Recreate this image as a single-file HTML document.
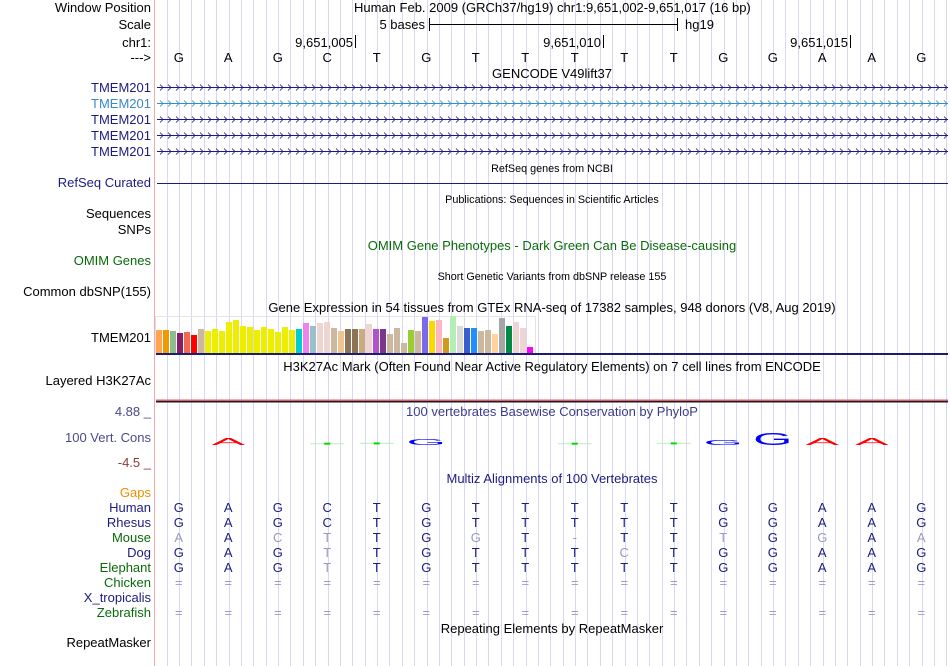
<!DOCTYPE html>
<html><head><meta charset="utf-8">
<style>
html,body{margin:0;padding:0;background:#fff;}
svg{display:block;font-family:"Liberation Sans",sans-serif;}
</style></head>
<body>
<svg id="chart" width="950" height="666" viewBox="0 0 950 666" xmlns="http://www.w3.org/2000/svg">
<rect width="950" height="666" fill="#fff"/>
<g id="grid"></g>
<line x1="154.5" y1="0" x2="154.5" y2="666" stroke="#f4a8a8" stroke-width="1"/>

<g font-size="13" text-anchor="end">
<text x="151" y="12" fill="#000">Window Position</text>
<text x="151" y="29" fill="#000">Scale</text>
<text x="151" y="47" fill="#000">chr1:</text>
<text x="151" y="62" fill="#000">---&gt;</text>
<text x="151" y="92" fill="#1c1c80">TMEM201</text>
<text x="151" y="108" fill="#3a8ac4">TMEM201</text>
<text x="151" y="124" fill="#1c1c80">TMEM201</text>
<text x="151" y="140" fill="#1c1c80">TMEM201</text>
<text x="151" y="156" fill="#1c1c80">TMEM201</text>
<text x="151" y="187" fill="#1c1c80">RefSeq Curated</text>
<text x="151" y="218" fill="#000">Sequences</text>
<text x="151" y="234" fill="#000">SNPs</text>
<text x="151" y="265" fill="#0a6a0a">OMIM Genes</text>
<text x="151" y="296" fill="#000">Common dbSNP(155)</text>
<text x="151" y="342" fill="#000">TMEM201</text>
<text x="151" y="385" fill="#000">Layered H3K27Ac</text>
<text x="151" y="416" fill="#4a4a8c">4.88 _</text>
<text x="151" y="442" fill="#4a4a8c">100 Vert. Cons</text>
<text x="151" y="467" fill="#8b3a3a">-4.5 _</text>
<text x="151" y="497" fill="#f08c00">Gaps</text>
<text x="151" y="512" fill="#1c1c80">Human</text>
<text x="151" y="527" fill="#1c1c80">Rhesus</text>
<text x="151" y="542" fill="#0a6a0a">Mouse</text>
<text x="151" y="557" fill="#1c1c80">Dog</text>
<text x="151" y="572" fill="#0a6a0a">Elephant</text>
<text x="151" y="587" fill="#0a6a0a">Chicken</text>
<text x="151" y="602" fill="#1c1c80">X_tropicalis</text>
<text x="151" y="617" fill="#0a6a0a">Zebrafish</text>
<text x="151" y="647" fill="#000">RepeatMasker</text>
</g>

<g font-size="13" fill="#000">
<text x="354" y="12">Human Feb. 2009 (GRCh37/hg19)   chr1:9,651,002-9,651,017 (16 bp)</text>
<text x="425" y="29" text-anchor="end">5 bases</text>
<line x1="429" y1="24.5" x2="677" y2="24.5" stroke="#000"/>
<line x1="429.5" y1="18" x2="429.5" y2="31" stroke="#000"/>
<line x1="677.5" y1="18" x2="677.5" y2="31" stroke="#000"/>
<text x="685" y="29">hg19</text>
<text x="353" y="47" text-anchor="end">9,651,005</text>
<line x1="355.5" y1="35" x2="355.5" y2="48" stroke="#000"/>
<text x="601" y="47" text-anchor="end">9,651,010</text>
<line x1="603.5" y1="35" x2="603.5" y2="48" stroke="#000"/>
<text x="848" y="47" text-anchor="end">9,651,015</text>
<line x1="850.5" y1="35" x2="850.5" y2="48" stroke="#000"/>
<g id="bases"></g>
</g>

<g text-anchor="middle">
<text x="552" y="78" font-size="13">GENCODE V49lift37</text>
<text x="552" y="172" font-size="10.8">RefSeq genes from NCBI</text>
<text x="552" y="203" font-size="10.8">Publications: Sequences in Scientific Articles</text>
<text x="552" y="250" font-size="13" fill="#0a6a0a">OMIM Gene Phenotypes - Dark Green Can Be Disease-causing</text>
<text x="552" y="280" font-size="10.8">Short Genetic Variants from dbSNP release 155</text>
<text x="552" y="312" font-size="13">Gene Expression in 54 tissues from GTEx RNA-seq of 17382 samples, 948 donors (V8, Aug 2019)</text>
<text x="552" y="371" font-size="13">H3K27Ac Mark (Often Found Near Active Regulatory Elements) on 7 cell lines from ENCODE</text>
<text x="552" y="416" font-size="13" fill="#3c3c8c">100 vertebrates Basewise Conservation by PhyloP</text>
<text x="552" y="483" font-size="13" fill="#1c1c80">Multiz Alignments of 100 Vertebrates</text>
<text x="552" y="633" font-size="13">Repeating Elements by RepeatMasker</text>
</g>

<g id="genes"></g>
<line x1="157" y1="183.5" x2="948" y2="183.5" stroke="#1c1c80"/>

<rect x="155.5" y="316.5" width="380" height="37" fill="none" stroke="#e4e4e4"/>
<g id="gtex"></g>
<rect x="156" y="353" width="792" height="2" fill="#1c1c70"/>

<rect x="156" y="399.5" width="792" height="1.5" fill="#e06060"/>
<rect x="156" y="401" width="792" height="1.5" fill="#1a1a30"/>

<g id="logo"></g>
<g id="align" font-size="13" text-anchor="middle"></g>
</svg>
<script>
// ---- data ----
const refBases = ["G","A","G","C","T","G","T","T","T","T","T","G","G","A","A","G"];
const rhesusBases = ["G","A","G","C","T","G","T","T","T","T","T","G","G","A","A","G"];
const mouseBases = ["A","A","C","T","T","G","G","T","-","T","T","T","G","G","A","A"];
const dogBases = ["G","A","G","T","T","G","T","T","T","C","T","G","G","A","A","G"];
const elephantBases = ["G","A","G","T","T","G","T","T","T","T","T","G","G","A","A","G"];
const gtexValues = [23,23,22,20,21,18,24,22,24,22,31,33,27,26,23,26,24,21,26,23,24,30,27,30,31,25,22,24,24,24,29,24,24,19,25,10,23,22,36,32,33,15,37,27,25,25,22,23,19,35,27,31,25,6];
const gtexColors = ["#FFA54F","#EE9A00","#8FBC8F","#8B1C62","#EE6A50","#FF0000","#CDB79E","#EEEE00","#EEEE00","#EEEE00","#EEEE00","#EEEE00","#EEEE00","#EEEE00","#EEEE00","#EEEE00","#EEEE00","#EEEE00","#EEEE00","#EEEE00","#00CDCD","#EE82EE","#9AC0CD","#EED5D2","#EED5D2","#CDB79E","#EEC591","#8B7355","#8B7355","#CDAA7D","#EED5D2","#B452CD","#7A378B","#CDB79E","#CDB79E","#CDB79E","#9ACD32","#CDB79E","#7B68EE","#FFD700","#FFB6C1","#CD9B1D","#B4EEB4","#D9D9D9","#3A5FCD","#1E90FF","#CDB79E","#CDB79E","#FFD39B","#A6A6A6","#008B45","#EED5D2","#EED5D2","#FF00FF"];
const logoBases = [1,3,4,5,8,10,11,12,13,14];
const logoLetters = ["A","-","-","G","-","-","G","G","A","A"];
const logoScores = [0.6,0.1,0.2,0.5,0.1,0.2,0.4,1.0,0.6,0.6];

const NS="http://www.w3.org/2000/svg";
const x0=154, bw=49.5;
function xBase(i){return x0+bw*(i+0.5);}
function mk(tag,attrs,parent){const e=document.createElementNS(NS,tag);for(const k in attrs)e.setAttribute(k,attrs[k]);parent.appendChild(e);return e;}

// grid
const grid=document.getElementById('grid');
for(let k=-1;k<64;k++){const x=Math.round(179+12.375*k)+0.5;if(x<156||x>949)continue;
 const l=mk('line',{x1:x,y1:0,x2:x,y2:666,stroke:'#d8d8f4','stroke-width':1},grid);
 
 }

// ruler bases
const bg=document.getElementById('bases');
refBases.forEach((b,i)=>{const t=mk('text',{x:xBase(i),y:62,'text-anchor':'middle','font-size':13},bg);t.textContent=b;
 
 });

// gene models
const gg=document.getElementById('genes');
[87,103,119,135,151].forEach((y,r)=>{const c=r===1?'#3a8ac4':'#1c1c80';
 const g=mk('g',{},gg);
 
 
 mk('line',{x1:157,y1:y+0.5,x2:948,y2:y+0.5,stroke:c},g);
 let d='';for(let x=160;x<948;x+=8){d+=`M${x} ${y-2.5}L${x+3} ${y+0.5}L${x} ${y+3.5}`;}
 mk('path',{d:d,stroke:c,fill:'none','stroke-width':0.8},g);});

// gtex bars
const gt=document.getElementById('gtex');
const gBase=353, gStep=7.0, gX0=156;
function yG(v){return gBase - v;}
gtexValues.forEach((v,i)=>{const r=mk('rect',{x:gX0+i*gStep,y:yG(v),width:6,height:gBase-yG(v),fill:gtexColors[i]},gt);
 
 });

// conservation logo
const lg=document.getElementById('logo');
const logoBase=445;
logoBases.forEach((bi,i)=>{const L=logoLetters[i],s=logoScores[i],cx=xBase(bi);
 const col=L==='A'?'#ff0000':L==='G'?'#0000ff':'#00dd00';
 if(L==='-'){
  mk('line',{x1:cx-17,y1:logoBase-3*s-1,x2:cx+17,y2:logoBase-3*s-1,stroke:'#b8f0b8'},lg);
  const r=mk('rect',{x:cx-3,y:logoBase-3*s-2,width:6,height:2,fill:col},lg);
  
  
 } else {
  const h=13*s, sy=h/9;
  const t=mk('text',{x:0,y:0,'text-anchor':'middle','font-size':12,fill:col,transform:`translate(${cx},${logoBase}) scale(4.2,${sy.toFixed(3)})`},lg);
  t.textContent=L;
  
  
 }});

// alignment
const al=document.getElementById('align');
const rows=[[refBases,512],[rhesusBases,527],[mouseBases,542],[dogBases,557],[elephantBases,572]];
rows.forEach(([arr,y])=>{arr.forEach((b,i)=>{const same=b===refBases[i];
 const t=mk('text',{x:xBase(i),y:y,fill:same?'#1c1c80':'#9a9ac4'},al);t.textContent=b;
 
 });});
[587,617].forEach(y=>{refBases.forEach((b,i)=>{const t=mk('text',{x:xBase(i),y:y,fill:'#9a9ac4'},al);t.textContent='=';
 
 });});
</script>
</body></html>
